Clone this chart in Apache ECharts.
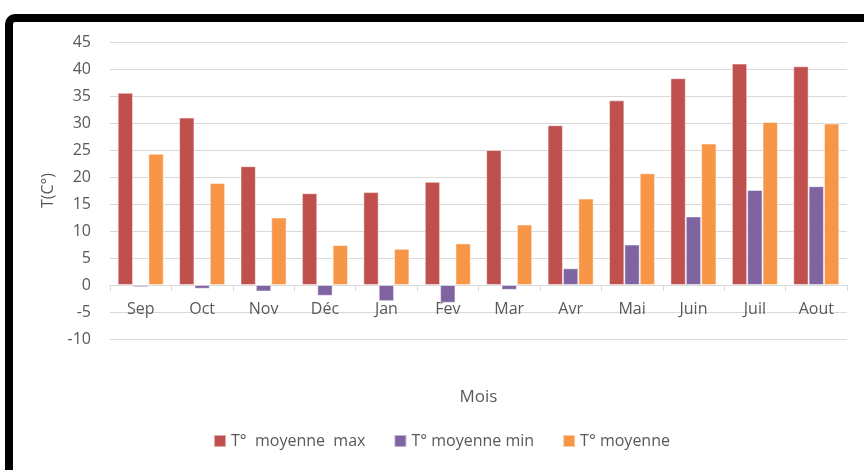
<!DOCTYPE html>
<html>
<head>
<meta charset="utf-8">
<script src="https://cdn.jsdelivr.net/npm/echarts@6/dist/echarts.min.js"></script>
<style>
  html, body { margin: 0; padding: 0; background: #fff; }
  #chart { width: 864px; height: 470px; }
</style>
</head>
<body>
<div id="chart"></div>
<script>
// mois
var mois = ['Sep', 'Oct', 'Nov', 'Déc', 'Jan', 'Fev', 'Mar', 'Avr', 'Mai', 'Juin', 'Juil', 'Aout'];
// températures
var tMax = [35.6, 31.0, 22.0, 17.0, 17.2, 19.1, 25.0, 29.6, 34.2, 38.3, 41.0, 40.5];
var tMin = [-0.4, -0.7, -1.2, -2.0, -3.0, -3.3, -0.9, 3.1, 7.5, 12.7, 17.6, 18.3];
var tMoy = [24.3, 18.9, 12.5, 7.4, 6.7, 7.7, 11.2, 16.0, 20.7, 26.2, 30.2, 29.9];

var txt = '#595959';
var font = 'Open Sans';

var myChart = echarts.init(document.getElementById('chart'));

function barSerie(name, data, color) {
	return {
		name: name,
		type: 'bar',
		data: data,
		barGap: '0%',
		barCategoryGap: '25%',
		itemStyle: {
			color: color,
			borderColor: 'rgba(255,255,255,0.5)',
			borderWidth: 1
		}
	};
}

var option = {
	animation: false,
	backgroundColor: '#fff',
	textStyle: { fontFamily: font },
	graphic: [{
		type: 'rect',
		shape: { x: 9, y: 18, width: 900, height: 520, r: 6 },
		style: { fill: 'none', stroke: '#000', lineWidth: 8 },
		z: 100
	}],
	grid: { left: 110, right: 17, top: 42, bottom: 131, outerBoundsMode: 'none', containLabel: false },
	legend: {
		top: 433,
		left: 213,
		padding: 0,
		itemWidth: 12,
		itemHeight: 12,
		itemGap: 28,
		itemTextGap: 6,
		icon: 'rect',
		textStyle: { color: txt, fontSize: 16, fontFamily: font },
		data: ['T°  moyenne  max', 'T° moyenne min', 'T° moyenne']
	},
	xAxis: {
		type: 'category',
		data: mois,
		// axe placé sur la ligne 0 (2 graduations de 5 au-dessus du bas)
		offset: -54,
		name: 'Mois',
		nameLocation: 'middle',
		nameGap: 104,
		nameTextStyle: { color: txt, fontSize: 17, fontFamily: font },
		axisLine: { onZero: false, lineStyle: { color: '#d9d9d9', width: 1 } },
		axisTick: { show: true, length: 6, lineStyle: { color: '#d9d9d9' } },
		axisLabel: { color: txt, fontSize: 16, margin: 16, fontFamily: font }
	},
	yAxis: {
		type: 'value',
		min: -10,
		max: 45,
		interval: 5,
		name: 'T(C°)',
		nameLocation: 'middle',
		nameRotate: 90,
		nameGap: 54,
		nameTextStyle: { color: txt, fontSize: 16, fontFamily: font },
		axisLine: { show: false },
		axisTick: { show: false },
		axisLabel: { color: txt, fontSize: 16, margin: 19, fontFamily: font },
		splitLine: { lineStyle: { color: '#d9d9d9', width: 1 } }
	},
	series: [
		barSerie('T°  moyenne  max', tMax, '#C0504D'),
		barSerie('T° moyenne min', tMin, '#8064A2'),
		barSerie('T° moyenne', tMoy, '#F79646')
	]
};

myChart.setOption(option);
</script>
</body>
</html>
